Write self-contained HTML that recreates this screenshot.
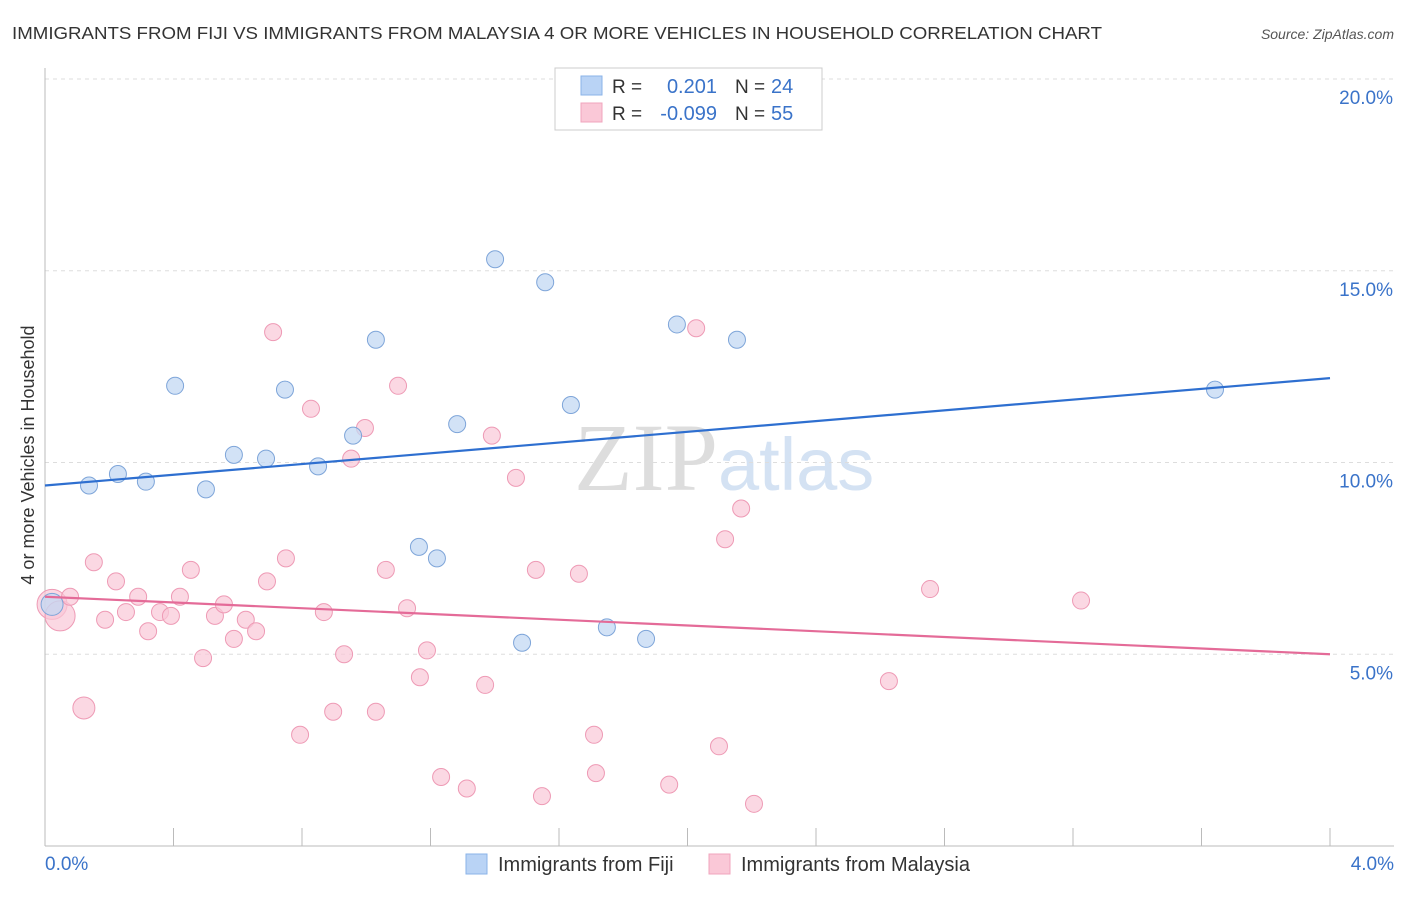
<!DOCTYPE html>
<html><head><meta charset="utf-8"><style>
body{margin:0;background:#fff;font-family:"Liberation Sans",sans-serif;}
</style></head><body>
<svg id="c" width="1406" height="892" xmlns="http://www.w3.org/2000/svg">
<text x="12" y="39" font-size="17.5" fill="#333" textLength="1090" lengthAdjust="spacingAndGlyphs">IMMIGRANTS FROM FIJI VS IMMIGRANTS FROM MALAYSIA 4 OR MORE VEHICLES IN HOUSEHOLD CORRELATION CHART</text>
<text x="1394" y="39" font-size="14" fill="#555" font-style="italic" text-anchor="end">Source: ZipAtlas.com</text>
<text x="718" y="490" font-size="96" fill="#ddd" font-family="Liberation Serif,serif" text-anchor="end">ZIP</text>
<text x="718" y="490" font-size="74" fill="#d4e2f3">atlas</text>
<text x="34" y="455" font-size="18" fill="#333" text-anchor="middle" transform="rotate(-90 34 455)">4 or more Vehicles in Household</text>
<g id="axes"></g><g id="marks"></g>
<g>
<rect x="555" y="68" width="267" height="62" fill="#fff" stroke="#ccc"/>
<rect x="581" y="76" width="21" height="19" fill="#b9d3f5" stroke="#8ab3e8"/>
<rect x="581" y="103" width="21" height="19" fill="#fac8d7" stroke="#f0a5bd"/>
<text x="612" y="93" font-size="19" fill="#333">R =</text><text x="717" y="93" font-size="20" fill="#3a73c9" text-anchor="end">0.201</text>
<text x="735" y="93" font-size="19" fill="#333">N =</text><text x="771" y="93" font-size="20" fill="#3a73c9">24</text>
<text x="612" y="120" font-size="19" fill="#333">R =</text><text x="717" y="120" font-size="20" fill="#3a73c9" text-anchor="end">-0.099</text>
<text x="735" y="120" font-size="19" fill="#333">N =</text><text x="771" y="120" font-size="20" fill="#3a73c9">55</text>
</g>
<g>
<rect x="466" y="854" width="21" height="20" fill="#b9d3f5" stroke="#8ab3e8"/>
<text x="498" y="871" font-size="20" fill="#333">Immigrants from Fiji</text>
<rect x="709" y="854" width="21" height="20" fill="#fac8d7" stroke="#f0a5bd"/>
<text x="741" y="871" font-size="20" fill="#333">Immigrants from Malaysia</text>
</g>
</svg>
<script>
const yTicks=[5,10,15,20];
const xTickLabels=["0.0%","4.0%"];
const fijiX=[0.137,0.227,0.314,0.405,0.501,0.588,0.688,0.747,0.850,0.959,1.030,1.164,1.220,1.283,1.401,1.485,1.557,1.637,1.749,1.871,1.967,2.154,3.642,0.022];
const fijiY=[9.4,9.7,9.5,12.0,9.3,10.2,10.1,11.9,9.9,10.7,13.2,7.8,7.5,11.0,15.3,5.3,14.7,11.5,5.7,5.4,13.6,13.2,11.9,6.3];
const malX=[0.022,0.047,0.078,0.121,0.152,0.187,0.221,0.252,0.290,0.321,0.358,0.392,0.420,0.454,0.492,0.529,0.557,0.588,0.625,0.657,0.691,0.710,0.750,0.794,0.828,0.868,0.897,0.931,0.953,0.996,1.030,1.061,1.099,1.127,1.167,1.189,1.233,1.313,1.370,1.391,1.466,1.528,1.547,1.662,1.709,1.715,1.943,2.027,2.098,2.117,2.167,2.207,2.627,2.755,3.225];
const malY=[6.3,6.0,6.5,3.6,7.4,5.9,6.9,6.1,6.5,5.6,6.1,6.0,6.5,7.2,4.9,6.0,6.3,5.4,5.9,5.6,6.9,13.4,7.5,2.9,11.4,6.1,3.5,5.0,10.1,10.9,3.5,7.2,12.0,6.2,4.4,5.1,1.8,1.5,4.2,10.7,9.6,7.2,1.3,7.1,2.9,1.9,1.6,13.5,2.6,8.0,8.8,1.1,4.3,6.7,6.4];
const fijiLine=[9.4,12.2], malLine=[6.5,5.0];
const X=v=>45+v*321.25, Y=v=>846-v*38.35;
const ns="http://www.w3.org/2000/svg";
function mk(t,a,p){const e=document.createElementNS(ns,t);for(const k in a)e.setAttribute(k,a[k]);p.appendChild(e);return e;}
const ax=document.getElementById('axes'), mg=document.getElementById('marks');
yTicks.forEach(t=>{const l=mk('line',{x1:45,x2:1394,y1:Y(t),y2:Y(t),stroke:'#ddd','stroke-dasharray':'4,4'},ax);

const tx=mk('text',{x:1393,y:Y(t)+25,'font-size':19,fill:'#3a73c9','text-anchor':'end'},ax);tx.textContent=t.toFixed(1)+'%';
});
const b=mk('line',{x1:45,x2:1394,y1:846,y2:846,stroke:'#bbb'},ax);
const lft=mk('line',{x1:45,x2:45,y1:68,y2:846,stroke:'#bbb'},ax);
for(let i=1;i<=10;i++){const t=mk('line',{x1:X(i*0.4),x2:X(i*0.4),y1:828,y2:846,stroke:'#bbb'},ax);}
xTickLabels.forEach((s,i)=>{const t=mk('text',{x:i?1394:45,y:870,'font-size':19,fill:'#3a73c9','text-anchor':i?'end':'start'},ax);t.textContent=s;});
malX.forEach((v,i)=>{const r=i<2?15:(i==3?11:8.5);const c=mk('circle',{cx:X(v),cy:Y(malY[i]),r:r,fill:'#fac8d7','fill-opacity':0.7,stroke:'#ee9ab5'},mg);});
fijiX.forEach((v,i)=>{const c=mk('circle',{cx:X(v),cy:Y(fijiY[i]),r:i==23?11:8.5,fill:'#c3d8f3','fill-opacity':0.75,stroke:'#7ea5d9'},mg);});
const l1=mk('line',{x1:X(0),x2:X(4),y1:Y(fijiLine[0]),y2:Y(fijiLine[1]),stroke:'#2e6fd0','stroke-width':2.2},mg);
const l2=mk('line',{x1:X(0),x2:X(4),y1:Y(malLine[0]),y2:Y(malLine[1]),stroke:'#e46b98','stroke-width':2.2},mg);
</script>
</body></html>
